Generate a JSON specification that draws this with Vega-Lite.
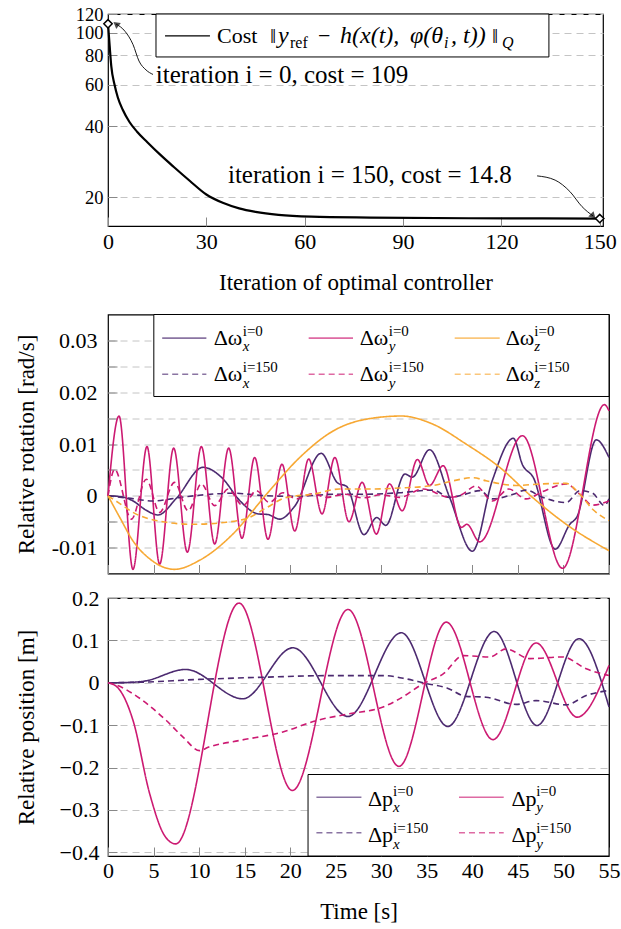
{
"$schema": "https://vega.github.io/schema/vega-lite/v6.json",
"padding": {"left": 14, "top": 4, "right": 5, "bottom": 5},
"background": "white",
"spacing": 10.5,
"resolve": {"scale": {"color": "independent", "strokeDash": "independent"}},
"config": {
  "font": "Liberation Serif",
  "view": {"stroke": "black", "strokeWidth": 1.2},
  "axis": {"labelFont": "Liberation Serif", "titleFont": "Liberation Serif", "labelFontSize": 22, "titleFontSize": 23, "titleFontWeight": "normal", "labelColor": "black", "titleColor": "black", "domain": false, "tickColor": "#888", "gridColor": "#c4c4c4", "gridDash": [7, 5], "labelOverlap": false, "labelFlush": false},
  "title": {"font": "Liberation Serif"},
  "text": {"font": "Liberation Serif", "fontSize": 22, "baseline": "alphabetic", "align": "left", "color": "black"}
},
"datasets": {
  "cost": [
    {"x": 0, "y": 109}, {"x": 0.5, "y": 88}, {"x": 1, "y": 72}, {"x": 2, "y": 60}, {"x": 3, "y": 53}, {"x": 4.5, "y": 47}, {"x": 6.5, "y": 41.8}, {"x": 8.8, "y": 38}, {"x": 12, "y": 34.2}, {"x": 16, "y": 30.2}, {"x": 20, "y": 26.9}, {"x": 25, "y": 23.4}, {"x": 30, "y": 20.5}, {"x": 35, "y": 18.9}, {"x": 40, "y": 17.9}, {"x": 45, "y": 17.3}, {"x": 52, "y": 16.8}, {"x": 62, "y": 16.5}, {"x": 80, "y": 16.35}, {"x": 110, "y": 16.25}, {"x": 150, "y": 16.2}
  ],
  "costMarks": [{"x": 0, "y": 109}, {"x": 150, "y": 16.2}],
  "arrows": [
    {"a": 1, "o": 1, "x": 13.73, "y": 66.4}, {"a": 1, "o": 2, "x": 11.59, "y": 69.4}, {"a": 1, "o": 3, "x": 9.46, "y": 75.7}, {"a": 1, "o": 4, "x": 7.63, "y": 89.0}, {"a": 1, "o": 5, "x": 5.19, "y": 101.3}, {"a": 1, "o": 6, "x": 2.44, "y": 108.8},
    {"a": 2, "o": 1, "x": 130.9, "y": 24.6}, {"a": 2, "o": 2, "x": 136.4, "y": 23.6}, {"a": 2, "o": 3, "x": 140.9, "y": 21.1}, {"a": 2, "o": 4, "x": 144.6, "y": 18.2}, {"a": 2, "o": 5, "x": 148.0, "y": 16.6}
  ],
  "arrowHeads": [{"x": 2.44, "y": 108.8, "dir": "l"}, {"x": 148.0, "y": 16.6, "dir": "r"}],
  "topNotes": [
    {"x": 14.6, "y": 61.2, "label": "iteration i = 0, cost = 109"},
    {"x": 36.6, "y": 23.0, "label": "iteration i = 150, cost = 14.8"}
  ],
  "topLegendBox": [{"x": 14.64, "x2": 134.5, "y": 120, "y2": 78.8}],
  "topLegendLine": [{"x": 17.4, "x2": 31.1, "y": 96.8}],
  "topLegendText": [
    {"x": 33.25, "y": 90.4, "label": "Cost", "kind": "main"},
    {"x": 49.42, "y": 90.4, "label": "‖", "kind": "main"},
    {"x": 51.86, "y": 90.4, "label": "y", "kind": "mainit"},
    {"x": 55.52, "y": 86.3, "label": "ref", "kind": "sub"},
    {"x": 64.06, "y": 90.4, "label": "−", "kind": "main"},
    {"x": 70.78, "y": 90.4, "label": "h(x(t),", "kind": "mainit"},
    {"x": 92.13, "y": 90.4, "label": "φ(θ", "kind": "mainit"},
    {"x": 102.5, "y": 86.3, "label": "i", "kind": "subit"},
    {"x": 104.64, "y": 90.4, "label": ", t))", "kind": "mainit"},
    {"x": 117.14, "y": 90.4, "label": "‖", "kind": "main"},
    {"x": 120.2, "y": 86.3, "label": "Q", "kind": "subit"}
  ],
  "omega": [
    {"t": 0, "v": 0, "s": "wx0"}, {"t": 1.5, "v": -0.0002, "s": "wx0"}, {"t": 2.75, "v": -0.001, "s": "wx0"}, {"t": 4.2, "v": -0.0028, "s": "wx0"}, {"t": 5.49, "v": -0.0037, "s": "wx0"}, {"t": 7.5, "v": -0.0005, "s": "wx0"}, {"t": 10.43, "v": 0.0055, "s": "wx0"}, {"t": 12.5, "v": 0.0035, "s": "wx0"}, {"t": 14.5, "v": -0.001, "s": "wx0"}, {"t": 16.5, "v": -0.0035, "s": "wx0"}, {"t": 17.5, "v": -0.0036, "s": "wx0"}, {"t": 18.85, "v": -0.0045, "s": "wx0"}, {"t": 20.5, "v": -0.002, "s": "wx0"}, {"t": 23.4, "v": 0.0082, "s": "wx0"}, {"t": 25.2, "v": 0.0025, "s": "wx0"}, {"t": 26.2, "v": 0.0018, "s": "wx0"}, {"t": 28.1, "v": -0.0075, "s": "wx0"}, {"t": 29.5, "v": -0.0042, "s": "wx0"}, {"t": 30.5, "v": -0.0057, "s": "wx0"}, {"t": 32.6, "v": 0.0042, "s": "wx0"}, {"t": 33.4, "v": 0.0036, "s": "wx0"}, {"t": 35.3, "v": 0.0089, "s": "wx0"}, {"t": 37.5, "v": -0.0003, "s": "wx0"}, {"t": 40.0, "v": -0.0107, "s": "wx0"}, {"t": 42.2, "v": 0.003, "s": "wx0"}, {"t": 44.5, "v": 0.0111, "s": "wx0"}, {"t": 45.5, "v": 0.006, "s": "wx0"}, {"t": 46.7, "v": 0.0035, "s": "wx0"}, {"t": 49.1, "v": -0.0103, "s": "wx0"}, {"t": 50.7, "v": -0.0055, "s": "wx0"}, {"t": 51.5, "v": -0.004, "s": "wx0"}, {"t": 53.6, "v": 0.0108, "s": "wx0"}, {"t": 55, "v": 0.0074, "s": "wx0"},
    {"t": 0, "v": 0, "s": "wy0"}, {"t": 1.21, "v": 0.0154, "s": "wy0"}, {"t": 2.74, "v": -0.0142, "s": "wy0"}, {"t": 4.28, "v": 0.0095, "s": "wy0"}, {"t": 5.67, "v": -0.0132, "s": "wy0"}, {"t": 7.21, "v": 0.0092, "s": "wy0"}, {"t": 8.71, "v": -0.0109, "s": "wy0"}, {"t": 10.25, "v": 0.0095, "s": "wy0"}, {"t": 11.71, "v": -0.0093, "s": "wy0"}, {"t": 13.25, "v": 0.0092, "s": "wy0"}, {"t": 14.71, "v": -0.0082, "s": "wy0"}, {"t": 16.1, "v": 0.0074, "s": "wy0"}, {"t": 17.56, "v": -0.0084, "s": "wy0"}, {"t": 19.1, "v": 0.0061, "s": "wy0"}, {"t": 20.5, "v": -0.0068, "s": "wy0"}, {"t": 22.03, "v": 0.0071, "s": "wy0"}, {"t": 23.5, "v": -0.0035, "s": "wy0"}, {"t": 24.9, "v": 0.0074, "s": "wy0"}, {"t": 26.45, "v": -0.005, "s": "wy0"}, {"t": 27.9, "v": 0.0026, "s": "wy0"}, {"t": 29.46, "v": -0.0074, "s": "wy0"}, {"t": 30.9, "v": 0.0023, "s": "wy0"}, {"t": 32.3, "v": -0.0029, "s": "wy0"}, {"t": 33.96, "v": 0.007, "s": "wy0"}, {"t": 35.3, "v": 0.002, "s": "wy0"}, {"t": 36.8, "v": 0.0058, "s": "wy0"}, {"t": 38.8, "v": -0.0061, "s": "wy0"}, {"t": 39.4, "v": -0.0055, "s": "wy0"}, {"t": 40.8, "v": -0.0089, "s": "wy0"}, {"t": 45.5, "v": 0.0116, "s": "wy0"}, {"t": 49.9, "v": -0.014, "s": "wy0"}, {"t": 54.5, "v": 0.0176, "s": "wy0"}, {"t": 55, "v": 0.0164, "s": "wy0"},
    {"t": 0, "v": 0, "s": "wz0"}, {"t": 1.3, "v": -0.0042, "s": "wz0"}, {"t": 2.74, "v": -0.0087, "s": "wz0"}, {"t": 4.6, "v": -0.0122, "s": "wz0"}, {"t": 7.3, "v": -0.0142, "s": "wz0"}, {"t": 10, "v": -0.0125, "s": "wz0"}, {"t": 13.7, "v": -0.0074, "s": "wz0"}, {"t": 17.4, "v": 0.0003, "s": "wz0"}, {"t": 21.05, "v": 0.0074, "s": "wz0"}, {"t": 24.7, "v": 0.0125, "s": "wz0"}, {"t": 28.4, "v": 0.0148, "s": "wz0"}, {"t": 32.2, "v": 0.0154, "s": "wz0"}, {"t": 35.7, "v": 0.0138, "s": "wz0"}, {"t": 39.3, "v": 0.01, "s": "wz0"}, {"t": 43, "v": 0.0055, "s": "wz0"}, {"t": 46.6, "v": -0.0003, "s": "wz0"}, {"t": 50.3, "v": -0.0055, "s": "wz0"}, {"t": 55, "v": -0.0106, "s": "wz0"},
    {"t": 0, "v": 0, "s": "wx150"}, {"t": 2.5, "v": -0.0005, "s": "wx150"}, {"t": 4.9, "v": -0.001, "s": "wx150"}, {"t": 8, "v": -0.0003, "s": "wx150"}, {"t": 10, "v": 0.0001, "s": "wx150"}, {"t": 13.7, "v": 0.0005, "s": "wx150"}, {"t": 17.4, "v": 0, "s": "wx150"}, {"t": 21, "v": -0.0001, "s": "wx150"}, {"t": 24.7, "v": 0.0003, "s": "wx150"}, {"t": 28.4, "v": 0.0003, "s": "wx150"}, {"t": 32, "v": 0.0006, "s": "wx150"}, {"t": 35.7, "v": 0.0011, "s": "wx150"}, {"t": 37.5, "v": -0.0003, "s": "wx150"}, {"t": 39, "v": 0.0002, "s": "wx150"}, {"t": 40.8, "v": 0.001, "s": "wx150"}, {"t": 42.2, "v": -0.0006, "s": "wx150"}, {"t": 44.5, "v": 0.0003, "s": "wx150"}, {"t": 45.9, "v": 0.0011, "s": "wx150"}, {"t": 47.7, "v": -0.0003, "s": "wx150"}, {"t": 50.3, "v": -0.0013, "s": "wx150"}, {"t": 51.8, "v": 0.001, "s": "wx150"}, {"t": 53.2, "v": 0.0005, "s": "wx150"}, {"t": 54.5, "v": -0.0019, "s": "wx150"}, {"t": 55, "v": -0.0006, "s": "wx150"},
    {"t": 0, "v": 0, "s": "wy150"}, {"t": 0.73, "v": 0.0051, "s": "wy150"}, {"t": 2.57, "v": -0.0045, "s": "wy150"}, {"t": 4.2, "v": 0.0032, "s": "wy150"}, {"t": 5.67, "v": -0.0032, "s": "wy150"}, {"t": 7.3, "v": 0.0026, "s": "wy150"}, {"t": 8.8, "v": -0.0029, "s": "wy150"}, {"t": 10.25, "v": 0.0023, "s": "wy150"}, {"t": 11.7, "v": -0.0019, "s": "wy150"}, {"t": 13.2, "v": 0.0013, "s": "wy150"}, {"t": 14.8, "v": -0.0019, "s": "wy150"}, {"t": 16.3, "v": 0.001, "s": "wy150"}, {"t": 17.7, "v": -0.0013, "s": "wy150"}, {"t": 19.2, "v": 0.0006, "s": "wy150"}, {"t": 20.7, "v": -0.0006, "s": "wy150"}, {"t": 22.5, "v": 0.0004, "s": "wy150"}, {"t": 24, "v": -0.0003, "s": "wy150"}, {"t": 26, "v": 0.0003, "s": "wy150"}, {"t": 28, "v": -0.0004, "s": "wy150"}, {"t": 30, "v": 0.0002, "s": "wy150"}, {"t": 32, "v": -0.0003, "s": "wy150"}, {"t": 34.6, "v": 0.0013, "s": "wy150"}, {"t": 37.5, "v": -0.0003, "s": "wy150"}, {"t": 38.8, "v": 0.0002, "s": "wy150"}, {"t": 40.4, "v": 0.0019, "s": "wy150"}, {"t": 42.2, "v": -0.001, "s": "wy150"}, {"t": 44, "v": 0.0013, "s": "wy150"}, {"t": 45.9, "v": -0.0006, "s": "wy150"}, {"t": 47.7, "v": 0.0008, "s": "wy150"}, {"t": 50.3, "v": 0.0023, "s": "wy150"}, {"t": 51.8, "v": 0.0003, "s": "wy150"}, {"t": 53.2, "v": -0.0018, "s": "wy150"}, {"t": 55, "v": -0.001, "s": "wy150"},
    {"t": 0, "v": 0, "s": "wz150"}, {"t": 1.3, "v": -0.0015, "s": "wz150"}, {"t": 2.74, "v": -0.0032, "s": "wz150"}, {"t": 6.4, "v": -0.0051, "s": "wz150"}, {"t": 9.3, "v": -0.0055, "s": "wz150"}, {"t": 13, "v": -0.0051, "s": "wz150"}, {"t": 15.5, "v": -0.0042, "s": "wz150"}, {"t": 17.4, "v": -0.0023, "s": "wz150"}, {"t": 19.6, "v": -0.0003, "s": "wz150"}, {"t": 22.5, "v": 0.0003, "s": "wz150"}, {"t": 25.4, "v": 0.0013, "s": "wz150"}, {"t": 28.4, "v": 0.0013, "s": "wz150"}, {"t": 32, "v": 0.0015, "s": "wz150"}, {"t": 35.7, "v": 0.002, "s": "wz150"}, {"t": 37.9, "v": 0.0029, "s": "wz150"}, {"t": 40.1, "v": 0.0035, "s": "wz150"}, {"t": 41.5, "v": 0.0029, "s": "wz150"}, {"t": 44.8, "v": 0.002, "s": "wz150"}, {"t": 47.7, "v": 0.0023, "s": "wz150"}, {"t": 50.3, "v": 0.0024, "s": "wz150"}, {"t": 51.8, "v": 0.0003, "s": "wz150"}, {"t": 53.2, "v": -0.0026, "s": "wz150"}, {"t": 55, "v": -0.0048, "s": "wz150"}
  ],
  "omegaLegendBox": [{"t": 5.03, "t2": 55, "v": 0.035, "v2": 0.01917}],
  "omegaLegendLines": [
    {"t": 5.95, "t2": 10.8, "v": 0.03043, "s": "wx0"}, {"t": 22.03, "t2": 26.9, "v": 0.03043, "s": "wy0"}, {"t": 38.06, "t2": 43.0, "v": 0.03043, "s": "wz0"},
    {"t": 5.95, "t2": 10.8, "v": 0.02347, "s": "wx150"}, {"t": 22.03, "t2": 26.9, "v": 0.02347, "s": "wy150"}, {"t": 38.06, "t2": 43.0, "v": 0.02347, "s": "wz150"}
  ],
  "omegaLegendText": [
    {"t": 11.6, "v": 0.02907, "label": "Δω", "kind": "main"}, {"t": 27.63, "v": 0.02907, "label": "Δω", "kind": "main"}, {"t": 43.66, "v": 0.02907, "label": "Δω", "kind": "main"},
    {"t": 11.6, "v": 0.02212, "label": "Δω", "kind": "main"}, {"t": 27.63, "v": 0.02212, "label": "Δω", "kind": "main"}, {"t": 43.66, "v": 0.02212, "label": "Δω", "kind": "main"},
    {"t": 14.79, "v": 0.02786, "label": "x", "kind": "sub"}, {"t": 30.82, "v": 0.02786, "label": "y", "kind": "sub"}, {"t": 46.8, "v": 0.02786, "label": "z", "kind": "sub"},
    {"t": 14.79, "v": 0.02087, "label": "x", "kind": "sub"}, {"t": 30.82, "v": 0.02087, "label": "y", "kind": "sub"}, {"t": 46.8, "v": 0.02087, "label": "z", "kind": "sub"},
    {"t": 14.79, "v": 0.03089, "label": "i=0", "kind": "sup"}, {"t": 30.82, "v": 0.03089, "label": "i=0", "kind": "sup"}, {"t": 46.8, "v": 0.03089, "label": "i=0", "kind": "sup"},
    {"t": 14.79, "v": 0.02396, "label": "i=150", "kind": "sup"}, {"t": 30.82, "v": 0.02396, "label": "i=150", "kind": "sup"}, {"t": 46.8, "v": 0.02396, "label": "i=150", "kind": "sup"}
  ],
  "pos": [
    {"t": 0, "v": 0, "s": "px0"}, {"t": 2.5, "v": 0.001, "s": "px0"}, {"t": 4, "v": 0.004, "s": "px0"}, {"t": 8.53, "v": 0.0315, "s": "px0"}, {"t": 14.8, "v": -0.0377, "s": "px0"}, {"t": 20.3, "v": 0.0826, "s": "px0"}, {"t": 26.35, "v": -0.0794, "s": "px0"}, {"t": 32.2, "v": 0.118, "s": "px0"}, {"t": 37.3, "v": -0.103, "s": "px0"}, {"t": 42.4, "v": 0.121, "s": "px0"}, {"t": 47.1, "v": -0.1006, "s": "px0"}, {"t": 51.7, "v": 0.104, "s": "px0"}, {"t": 55, "v": -0.057, "s": "px0"},
    {"t": 0, "v": 0, "s": "py0"}, {"t": 1, "v": -0.01, "s": "py0"}, {"t": 2.75, "v": -0.089, "s": "py0"}, {"t": 4.58, "v": -0.262, "s": "py0"}, {"t": 6.2, "v": -0.36, "s": "py0"}, {"t": 7.43, "v": -0.38, "s": "py0"}, {"t": 14.38, "v": 0.188, "s": "py0"}, {"t": 20.24, "v": -0.254, "s": "py0"}, {"t": 26.35, "v": 0.173, "s": "py0"}, {"t": 31.94, "v": -0.197, "s": "py0"}, {"t": 37.14, "v": 0.143, "s": "py0"}, {"t": 42.26, "v": -0.134, "s": "py0"}, {"t": 47.0, "v": 0.094, "s": "py0"}, {"t": 51.5, "v": -0.081, "s": "py0"}, {"t": 55, "v": 0.041, "s": "py0"},
    {"t": 0, "v": 0, "s": "px150"}, {"t": 3, "v": 0.001, "s": "px150"}, {"t": 10, "v": 0.008, "s": "px150"}, {"t": 17.4, "v": 0.0134, "s": "px150"}, {"t": 24.7, "v": 0.017, "s": "px150"}, {"t": 30.2, "v": 0.017, "s": "px150"}, {"t": 32.8, "v": 0.009, "s": "px150"}, {"t": 34.8, "v": -0.001, "s": "px150"}, {"t": 37.2, "v": -0.012, "s": "px150"}, {"t": 39.3, "v": -0.032, "s": "px150"}, {"t": 41.5, "v": -0.034, "s": "px150"}, {"t": 44.8, "v": -0.051, "s": "px150"}, {"t": 47, "v": -0.042, "s": "px150"}, {"t": 50.3, "v": -0.052, "s": "px150"}, {"t": 52.5, "v": -0.03, "s": "px150"}, {"t": 55, "v": -0.018, "s": "px150"},
    {"t": 0, "v": 0, "s": "py150"}, {"t": 1, "v": -0.006, "s": "py150"}, {"t": 2.75, "v": -0.026, "s": "py150"}, {"t": 6.4, "v": -0.089, "s": "py150"}, {"t": 8.24, "v": -0.128, "s": "py150"}, {"t": 10.07, "v": -0.16, "s": "py150"}, {"t": 11, "v": -0.152, "s": "py150"}, {"t": 14.45, "v": -0.136, "s": "py150"}, {"t": 19.2, "v": -0.116, "s": "py150"}, {"t": 22.9, "v": -0.089, "s": "py150"}, {"t": 26.5, "v": -0.073, "s": "py150"}, {"t": 30.2, "v": -0.057, "s": "py150"}, {"t": 32, "v": -0.038, "s": "py150"}, {"t": 34.6, "v": -0.002, "s": "py150"}, {"t": 36.8, "v": 0.021, "s": "py150"}, {"t": 39, "v": 0.064, "s": "py150"}, {"t": 41.9, "v": 0.061, "s": "py150"}, {"t": 43.7, "v": 0.08, "s": "py150"}, {"t": 46.3, "v": 0.057, "s": "py150"}, {"t": 49.9, "v": 0.061, "s": "py150"}, {"t": 52.5, "v": 0.033, "s": "py150"}, {"t": 55, "v": 0.017, "s": "py150"}
  ],
  "posLegendBox": [{"t": 21.96, "t2": 55, "v": -0.2163, "v2": -0.4085}],
  "posLegendLines": [
    {"t": 22.88, "t2": 27.82, "v": -0.2698, "s": "px0"}, {"t": 38.53, "t2": 43.44, "v": -0.2698, "s": "py0"},
    {"t": 22.88, "t2": 27.82, "v": -0.3538, "s": "px150"}, {"t": 38.53, "t2": 43.44, "v": -0.3538, "s": "py150"}
  ],
  "posLegendText": [
    {"t": 28.54, "v": -0.2894, "label": "Δp", "kind": "main"}, {"t": 44.29, "v": -0.2894, "label": "Δp", "kind": "main"},
    {"t": 28.54, "v": -0.3759, "label": "Δp", "kind": "main"}, {"t": 44.29, "v": -0.3759, "label": "Δp", "kind": "main"},
    {"t": 31.3, "v": -0.3047, "label": "x", "kind": "sub"}, {"t": 47.0, "v": -0.3047, "label": "y", "kind": "sub"},
    {"t": 31.3, "v": -0.3913, "label": "x", "kind": "sub"}, {"t": 47.0, "v": -0.3913, "label": "y", "kind": "sub"},
    {"t": 31.3, "v": -0.267, "label": "i=0", "kind": "sup"}, {"t": 47.0, "v": -0.267, "label": "i=0", "kind": "sup"},
    {"t": 31.3, "v": -0.3535, "label": "i=150", "kind": "sup"}, {"t": 47.0, "v": -0.3535, "label": "i=150", "kind": "sup"}
  ]
},
"vconcat": [
  {
    "width": 495, "height": 212,
    "encoding": {
      "x": {"field": "x", "type": "quantitative", "scale": {"domain": [0, 151], "nice": false, "zero": false}, "axis": {"values": [0, 30, 60, 90, 120, 150], "title": "Iteration of optimal controller", "grid": false, "tickSize": -9, "labelPadding": 14, "titlePadding": 19.5}},
      "y": {"field": "y", "type": "quantitative", "scale": {"type": "log", "domain": [15.06, 120], "nice": false}, "axis": {"values": [20, 40, 60, 80, 100, 120], "title": null, "grid": true, "tickSize": -9, "labelPadding": 14, "labelFontSize": 18.5}}
    },
    "layer": [
      {"data": {"name": "cost"}, "mark": {"type": "line", "color": "black", "strokeWidth": 2.2, "interpolate": "monotone"}},
      {"data": {"name": "topLegendBox"}, "mark": {"type": "rect", "fill": "white", "stroke": "black", "strokeWidth": 1}, "encoding": {"x2": {"field": "x2"}, "y2": {"field": "y2"}}},
      {"data": {"name": "topLegendLine"}, "mark": {"type": "rule", "color": "black", "strokeWidth": 1.2}, "encoding": {"x2": {"field": "x2"}}},
      {"data": {"name": "topLegendText"}, "transform": [{"filter": "datum.kind == 'main'"}], "mark": {"type": "text"}, "encoding": {"text": {"field": "label"}}},
      {"data": {"name": "topLegendText"}, "transform": [{"filter": "datum.kind == 'mainit'"}], "mark": {"type": "text", "fontStyle": "italic", "fontSize": 24}, "encoding": {"text": {"field": "label"}}},
      {"data": {"name": "topLegendText"}, "transform": [{"filter": "datum.kind == 'sub'"}], "mark": {"type": "text", "fontSize": 16}, "encoding": {"text": {"field": "label"}}},
      {"data": {"name": "topLegendText"}, "transform": [{"filter": "datum.kind == 'subit'"}], "mark": {"type": "text", "fontSize": 16, "fontStyle": "italic"}, "encoding": {"text": {"field": "label"}}},
      {"data": {"name": "topNotes"}, "mark": {"type": "text", "fontSize": 25}, "encoding": {"text": {"field": "label"}}},
      {"data": {"name": "arrows"}, "mark": {"type": "line", "color": "black", "strokeWidth": 0.9, "interpolate": "monotone"}, "encoding": {"detail": {"field": "a"}, "order": {"field": "o"}}},
      {"data": {"name": "arrowHeads"}, "transform": [{"filter": "datum.dir == 'l'"}], "mark": {"type": "point", "shape": "triangle-left", "filled": true, "color": "black", "size": 55, "angle": 38}},
      {"data": {"name": "arrowHeads"}, "transform": [{"filter": "datum.dir == 'r'"}], "mark": {"type": "point", "shape": "triangle-right", "filled": true, "color": "black", "size": 55, "angle": 45}},
      {"data": {"name": "costMarks"}, "mark": {"type": "point", "shape": "diamond", "filled": true, "fill": "white", "stroke": "black", "strokeWidth": 1.5, "size": 70, "opacity": 1}}
    ]
  },
  {
    "width": 501, "height": 259,
    "title": {"text": " ", "fontSize": 6, "offset": 0},
    "encoding": {
      "x": {"field": "t", "type": "quantitative", "scale": {"domain": [0, 55], "nice": false, "zero": false}, "axis": {"values": [0, 5, 10, 15, 20, 25, 30, 35, 40, 45, 50, 55], "labels": false, "title": null, "grid": false, "tickSize": -9}},
      "y": {"field": "v", "type": "quantitative", "scale": {"domain": [-0.015, 0.035], "nice": false, "zero": false}, "axis": {"values": [-0.01, -0.005, 0, 0.005, 0.01, 0.015, 0.02, 0.025, 0.03], "labelExpr": "datum.value == 0.03 ? '0.03' : datum.value == 0.02 ? '0.02' : datum.value == 0.01 ? '0.01' : datum.value == 0 ? '0' : datum.value == -0.01 ? '-0.01' : ''", "title": "Relative rotation [rad/s]", "grid": true, "tickSize": -9, "labelPadding": 20, "titlePadding": 12.8}}
    },
    "layer": [
      {"data": {"name": "omega"}, "mark": {"type": "line", "strokeWidth": 1.6, "interpolate": "monotone"}, "encoding": {
        "color": {"field": "s", "type": "nominal", "legend": null, "scale": {"domain": ["wx0", "wy0", "wz0", "wx150", "wy150", "wz150"], "range": ["#4c2a70", "#cc1a72", "#f7a833", "#4c2a70", "#cc1a72", "#f7a833"]}},
        "strokeDash": {"field": "s", "type": "nominal", "legend": null, "scale": {"domain": ["wx0", "wy0", "wz0", "wx150", "wy150", "wz150"], "range": [[1, 0], [1, 0], [1, 0], [6, 4], [6, 4], [6, 4]]}}
      }},
      {"data": {"name": "omegaLegendBox"}, "mark": {"type": "rect", "fill": "white", "stroke": "black", "strokeWidth": 1}, "encoding": {"x2": {"field": "t2"}, "y2": {"field": "v2"}}},
      {"data": {"name": "omegaLegendLines"}, "mark": {"type": "rule", "strokeWidth": 1.6, "opacity": 0.65}, "encoding": {"x2": {"field": "t2"},
        "color": {"field": "s", "type": "nominal", "legend": null, "scale": {"domain": ["wx0", "wy0", "wz0", "wx150", "wy150", "wz150"], "range": ["#4c2a70", "#cc1a72", "#f7a833", "#4c2a70", "#cc1a72", "#f7a833"]}},
        "strokeDash": {"field": "s", "type": "nominal", "legend": null, "scale": {"domain": ["wx0", "wy0", "wz0", "wx150", "wy150", "wz150"], "range": [[1, 0], [1, 0], [1, 0], [6, 4], [6, 4], [6, 4]]}}}},
      {"data": {"name": "omegaLegendText"}, "transform": [{"filter": "datum.kind == 'main'"}], "mark": {"type": "text", "fontSize": 22}, "encoding": {"text": {"field": "label"}}},
      {"data": {"name": "omegaLegendText"}, "transform": [{"filter": "datum.kind == 'sub'"}], "mark": {"type": "text", "fontSize": 15, "fontStyle": "italic"}, "encoding": {"text": {"field": "label"}}},
      {"data": {"name": "omegaLegendText"}, "transform": [{"filter": "datum.kind == 'sup'"}], "mark": {"type": "text", "fontSize": 15}, "encoding": {"text": {"field": "label"}}}
    ]
  },
  {
    "width": 501, "height": 258,
    "encoding": {
      "x": {"field": "t", "type": "quantitative", "scale": {"domain": [0, 55], "nice": false, "zero": false}, "axis": {"values": [0, 5, 10, 15, 20, 25, 30, 35, 40, 45, 50, 55], "title": "Time [s]", "grid": false, "tickSize": -9, "labelPadding": 13, "titlePadding": 19.5}},
      "y": {"field": "v", "type": "quantitative", "scale": {"domain": [-0.4085, 0.2], "nice": false, "zero": false}, "axis": {"values": [-0.4, -0.3, -0.2, -0.1, 0, 0.1, 0.2], "labelExpr": "datum.value == 0 ? '0' : format(datum.value, '.1f')", "title": "Relative position [m]", "grid": true, "tickSize": -9, "labelPadding": 18, "titlePadding": 20.7}}
    },
    "layer": [
      {"data": {"name": "pos"}, "mark": {"type": "line", "strokeWidth": 1.6, "interpolate": "monotone"}, "encoding": {
        "color": {"field": "s", "type": "nominal", "legend": null, "scale": {"domain": ["px0", "py0", "px150", "py150"], "range": ["#4c2a70", "#cc1a72", "#4c2a70", "#cc1a72"]}},
        "strokeDash": {"field": "s", "type": "nominal", "legend": null, "scale": {"domain": ["px0", "py0", "px150", "py150"], "range": [[1, 0], [1, 0], [6, 4], [6, 4]]}}
      }},
      {"data": {"name": "posLegendBox"}, "mark": {"type": "rect", "fill": "white", "stroke": "black", "strokeWidth": 1}, "encoding": {"x2": {"field": "t2"}, "y2": {"field": "v2"}}},
      {"data": {"name": "posLegendLines"}, "mark": {"type": "rule", "strokeWidth": 1.6, "opacity": 0.65}, "encoding": {"x2": {"field": "t2"},
        "color": {"field": "s", "type": "nominal", "legend": null, "scale": {"domain": ["px0", "py0", "px150", "py150"], "range": ["#4c2a70", "#cc1a72", "#4c2a70", "#cc1a72"]}},
        "strokeDash": {"field": "s", "type": "nominal", "legend": null, "scale": {"domain": ["px0", "py0", "px150", "py150"], "range": [[1, 0], [1, 0], [6, 4], [6, 4]]}}}},
      {"data": {"name": "posLegendText"}, "transform": [{"filter": "datum.kind == 'main'"}], "mark": {"type": "text", "fontSize": 22}, "encoding": {"text": {"field": "label"}}},
      {"data": {"name": "posLegendText"}, "transform": [{"filter": "datum.kind == 'sub'"}], "mark": {"type": "text", "fontSize": 15, "fontStyle": "italic"}, "encoding": {"text": {"field": "label"}}},
      {"data": {"name": "posLegendText"}, "transform": [{"filter": "datum.kind == 'sup'"}], "mark": {"type": "text", "fontSize": 15}, "encoding": {"text": {"field": "label"}}}
    ]
  }
]
}
